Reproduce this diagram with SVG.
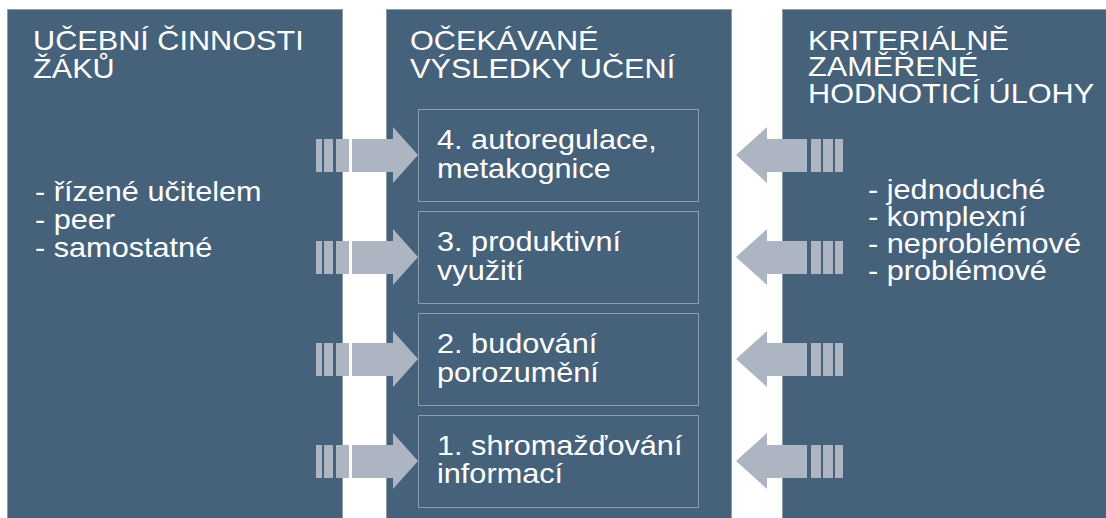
<svg xmlns="http://www.w3.org/2000/svg" xmlns:xlink="http://www.w3.org/1999/xlink" width="1106" height="518" viewBox="0 0 1106 518">
<style>
.panel{fill:#46627b;stroke:#8a9bad;stroke-width:1}
.box{fill:none;stroke:#8c9db0;stroke-width:1}
.arr{fill:#adb5c2}
.t{font-family:"Liberation Sans",Arial,sans-serif;font-size:27px;fill:#ffffff}
</style>
<defs>
<g id="arrowL" class="arr">
<rect x="316" y="139" width="6" height="33"/>
<rect x="324" y="139" width="9" height="33"/>
<rect x="336" y="139" width="13" height="33"/>
<polygon points="352,139 393,139 393,127 418,155 393,183 393,172 352,172"/>
</g>
<g id="arrowR" class="arr">
<polygon points="807,139 767,139 767,127 736,155 767,183 767,172 807,172"/>
<rect x="811" y="139" width="10" height="33"/>
<rect x="823" y="139" width="10" height="33"/>
<rect x="835" y="139" width="8" height="33"/>
</g>
</defs>
<rect width="1106" height="518" fill="#ffffff"/>
<g id="panel-left">
<rect class="panel" x="7.5" y="9.5" width="335" height="520"/>
<text class="t" transform="matrix(1.136 0 0 1 33 0)" y="50">UČEBNÍ ČINNOSTI</text>
<text class="t" transform="matrix(1.136 0 0 1 33 0)" y="78">ŽÁKŮ</text>
<text class="t" transform="matrix(1.136 0 0 1 35 0)" y="201">- řízené učitelem</text>
<text class="t" transform="matrix(1.136 0 0 1 35 0)" y="229">- peer</text>
<text class="t" transform="matrix(1.136 0 0 1 35 0)" y="257">- samostatné</text>
</g>
<g id="panel-middle">
<rect class="panel" x="386.5" y="9.5" width="345" height="520"/>
<text class="t" transform="matrix(1.136 0 0 1 410 0)" y="50">OČEKÁVANÉ</text>
<text class="t" transform="matrix(1.136 0 0 1 410 0)" y="78">VÝSLEDKY UČENÍ</text>
</g>
<g id="panel-right">
<rect class="panel" x="782.5" y="9.5" width="330" height="520"/>
<text class="t" transform="matrix(1.136 0 0 1 808 0)" y="50">KRITERIÁLNĚ</text>
<text class="t" transform="matrix(1.136 0 0 1 808 0)" y="76">ZAMĚŘENÉ</text>
<text class="t" transform="matrix(1.136 0 0 1 808 0)" y="103">HODNOTICÍ ÚLOHY</text>
<text class="t" transform="matrix(1.136 0 0 1 868 0)" y="199">- jednoduché</text>
<text class="t" transform="matrix(1.136 0 0 1 868 0)" y="226">- komplexní</text>
<text class="t" transform="matrix(1.136 0 0 1 868 0)" y="253">- neproblémové</text>
<text class="t" transform="matrix(1.136 0 0 1 868 0)" y="280">- problémové</text>
</g>
<g id="box4">
<rect class="box" x="418.5" y="109.5" width="280" height="92"/>
<text class="t" transform="matrix(1.136 0 0 1 437 0)" y="149">4. autoregulace,</text>
<text class="t" transform="matrix(1.136 0 0 1 437 0)" y="178">metakognice</text>
</g>
<g id="box3">
<rect class="box" x="418.5" y="211.5" width="280" height="92"/>
<text class="t" transform="matrix(1.136 0 0 1 437 0)" y="251">3. produktivní</text>
<text class="t" transform="matrix(1.136 0 0 1 437 0)" y="280">využití</text>
</g>
<g id="box2">
<rect class="box" x="418.5" y="313.5" width="280" height="92"/>
<text class="t" transform="matrix(1.136 0 0 1 437 0)" y="353">2. budování</text>
<text class="t" transform="matrix(1.136 0 0 1 437 0)" y="382">porozumění</text>
</g>
<g id="box1">
<rect class="box" x="418.5" y="415.5" width="280" height="92"/>
<text class="t" transform="matrix(1.136 0 0 1 437 0)" y="455">1. shromažďování</text>
<text class="t" transform="matrix(1.136 0 0 1 437 0)" y="483">informací</text>
</g>
<g id="connectors">
<use xlink:href="#arrowL"/>
<use xlink:href="#arrowL" y="102"/>
<use xlink:href="#arrowL" y="204"/>
<use xlink:href="#arrowL" y="306"/>
<use xlink:href="#arrowR"/>
<use xlink:href="#arrowR" y="102"/>
<use xlink:href="#arrowR" y="204"/>
<use xlink:href="#arrowR" y="306"/>
</g>
</svg>
